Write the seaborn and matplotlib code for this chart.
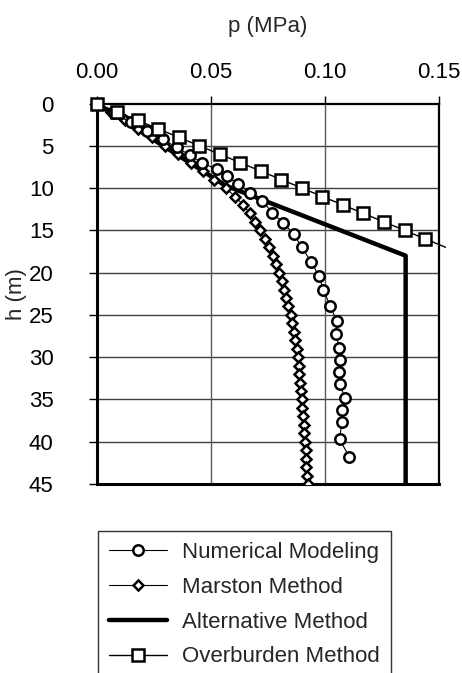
import numpy as np
import pandas as pd
import matplotlib
matplotlib.use("Agg")
import matplotlib.pyplot as plt
import seaborn as sns

# values
h_num = [0, 1.1, 2.2, 3.2, 4.2, 5.2, 6.1, 7.0, 7.8, 8.6, 9.5, 10.6, 11.5, 12.9, 14.1,
         15.4, 17.0, 18.7, 20.4, 22.0, 23.9, 25.7, 27.3, 28.9, 30.3, 31.7, 33.2, 34.8,
         36.3, 37.7, 39.7, 41.8]
p_num = [0, 0.0075, 0.015, 0.022, 0.029, 0.035, 0.041, 0.046, 0.0528, 0.057, 0.0621,
         0.0672, 0.0724, 0.0771, 0.0816, 0.0864, 0.0899, 0.094, 0.0975, 0.0994, 0.1023,
         0.1053, 0.1050, 0.1064, 0.1067, 0.1064, 0.1067, 0.1088, 0.1078, 0.1075, 0.1065,
         0.1108]

h_marston = list(range(0, 46))
p_marston = [0, 0.0062, 0.0123, 0.0183, 0.0243, 0.030, 0.0357, 0.0412, 0.0465, 0.0515,
             0.0565, 0.0607, 0.0643, 0.0672, 0.0695, 0.0716, 0.0736, 0.0754, 0.0772,
             0.0787, 0.0800, 0.0812, 0.0823, 0.0832, 0.0841, 0.0850, 0.0858, 0.0864,
             0.0870, 0.0877, 0.0883, 0.0886, 0.0889, 0.0892, 0.0896, 0.0899, 0.0902,
             0.0905, 0.0908, 0.0911, 0.0914, 0.0916, 0.0918, 0.0920, 0.0923, 0.0925]

h_alt = [0, 9.7, 18, 45]
p_alt = [0, 0.0565, 0.1355, 0.1355]

h_over = list(range(0, 18))
p_over = [0, 0.009, 0.018, 0.027, 0.036, 0.045, 0.054, 0.063, 0.072, 0.081, 0.090,
          0.099, 0.108, 0.117, 0.126, 0.135, 0.144, 0.153]

labels = ["Numerical Modeling", "Marston Method", "Alternative Method", "Overburden Method"]
x_ticks = [0.00, 0.05, 0.10, 0.15]
y_ticks = [0, 5, 10, 15, 20, 25, 30, 35, 40, 45]

sns.set_theme(style="ticks")
plt.rcParams["font.family"] = ["Liberation Sans", "DejaVu Sans"]
plt.rcParams["font.size"] = 16

fig = plt.figure(figsize=(4.62, 6.73), dpi=100)
ax = fig.add_axes([0.2093, 0.2808, 0.7403, 0.5654])

# grid
for y in y_ticks[1:-1]:
    ax.axhline(y, color="0.25", lw=1.0, zorder=0)
for x in x_ticks[1:-1]:
    ax.axvline(x, color="0.35", lw=1.0, zorder=0)

df_alt = pd.DataFrame({"p": p_alt, "h": h_alt})
sns.lineplot(data=df_alt, x="p", y="h", sort=False, estimator=None, ax=ax,
             color="black", lw=3.2, label=labels[2], zorder=2)

df_num = pd.DataFrame({"p": p_num, "h": h_num})
sns.lineplot(data=df_num, x="p", y="h", sort=False, estimator=None, ax=ax,
             color="black", lw=0.8, marker="o", markersize=7.5, markerfacecolor="white",
             markeredgecolor="black", markeredgewidth=1.8, label=labels[0], zorder=4)

df_mar = pd.DataFrame({"p": p_marston, "h": h_marston})
sns.lineplot(data=df_mar, x="p", y="h", sort=False, estimator=None, ax=ax,
             color="black", lw=0.8, marker="D", markersize=5.6, markerfacecolor="white",
             markeredgecolor="black", markeredgewidth=1.8, label=labels[1], zorder=3)

df_over = pd.DataFrame({"p": p_over, "h": h_over})
sns.lineplot(data=df_over, x="p", y="h", sort=False, estimator=None, ax=ax,
             color="black", lw=1.0, marker="s", markersize=9.2, markerfacecolor="white",
             markeredgecolor="black", markeredgewidth=1.8, label=labels[3], zorder=5,
             markevery=slice(0, 17), clip_on=False)

ax.set_xlim(0, 0.15)
ax.set_ylim(45, 0)
ax.set_xticks(x_ticks)
ax.set_xticklabels([f"{v:.2f}" for v in x_ticks])
ax.set_yticks(y_ticks)
ax.xaxis.tick_top()
ax.xaxis.set_label_position("top")
ax.tick_params(axis="x", direction="out", length=6, width=1, pad=8.5, labelsize=16, colors="black")
ax.tick_params(axis="y", direction="out", length=6, width=1, pad=25, labelsize=16, colors="black")
ax.set_xlabel("p (MPa)", fontsize=16, labelpad=22)
ax.set_ylabel("h (m)", fontsize=16, labelpad=1)

for side in ["left", "bottom"]:
    ax.spines[side].set_linewidth(2.2)
for side in ["top", "right"]:
    ax.spines[side].set_linewidth(1.6)
for s in ax.spines.values():
    s.set_color("black")

handles, labs = ax.get_legend_handles_labels()
order = [labs.index(l) for l in labels]
ax.get_legend().remove()
leg = fig.legend([handles[i] for i in order], [labs[i] for i in order],
                 loc="upper left", bbox_to_anchor=(0.212, 0.211), fontsize=16,
                 frameon=True, fancybox=False, shadow=False, handlelength=2.6,
                 handletextpad=0.7, labelspacing=0.62, borderpad=0.5, borderaxespad=0)
leg.get_frame().set_edgecolor("black")
leg.get_frame().set_linewidth(1.0)

fig.savefig("out.png", dpi=100)
